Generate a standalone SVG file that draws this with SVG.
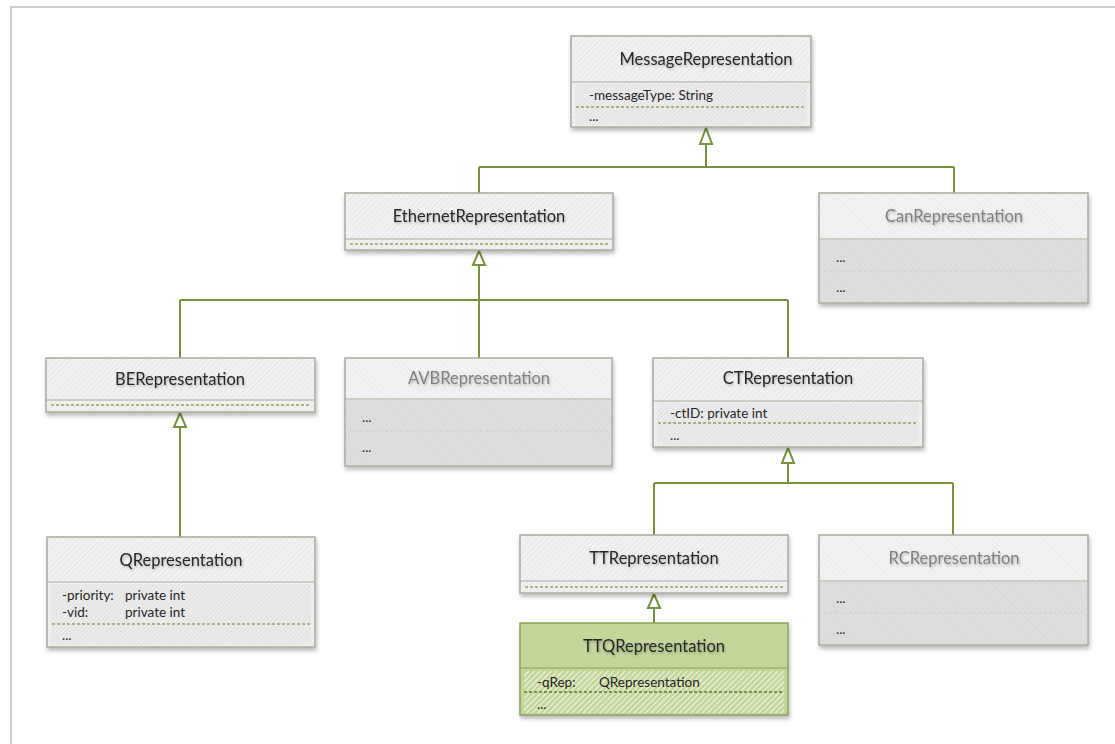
<svg xmlns="http://www.w3.org/2000/svg" width="1115" height="744" viewBox="0 0 1115 744">
<defs>
<pattern id="hatch" width="4" height="4" patternUnits="userSpaceOnUse" patternTransform="rotate(45)">
<rect width="4" height="4" fill="#f1f1f1"/>
<line x1="0" y1="0" x2="0" y2="4" stroke="#e4e4e4" stroke-width="1.5"/>
</pattern>
<pattern id="hatchAttr" width="3" height="3" patternUnits="userSpaceOnUse" patternTransform="rotate(45)">
<rect width="3" height="3" fill="#ececec"/>
<line x1="0" y1="0" x2="0" y2="3" stroke="#d9d9d9" stroke-width="1.2"/>
</pattern>
<pattern id="hatchGray" width="4" height="4" patternUnits="userSpaceOnUse" patternTransform="rotate(-45)">
<rect width="4" height="4" fill="#dedede"/>
<line x1="0" y1="0" x2="0" y2="4" stroke="#d4d4d4" stroke-width="1.2"/>
</pattern>
<pattern id="hatchGrayTitle" width="4" height="4" patternUnits="userSpaceOnUse" patternTransform="rotate(-45)">
<rect width="4" height="4" fill="#f2f2f2"/>
<line x1="0" y1="0" x2="0" y2="4" stroke="#e7e7e7" stroke-width="1.2"/>
</pattern>
<pattern id="hatchGreen" width="4" height="4" patternUnits="userSpaceOnUse" patternTransform="rotate(45)">
<rect width="4" height="4" fill="#c4d79b"/>
<line x1="0" y1="0" x2="0" y2="4" stroke="#ffffff" stroke-width="1.6"/>
</pattern>
<filter id="shadow" x="-5%" y="-10%" width="112%" height="130%">
<feDropShadow dx="1" dy="3" stdDeviation="2" flood-color="#000" flood-opacity="0.28"/>
</filter>
<filter id="tshadow" x="-5%" y="-30%" width="110%" height="160%">
<feDropShadow dx="1" dy="1.5" stdDeviation="1" flood-color="#000" flood-opacity="0.25"/>
</filter>
</defs>
<style>
.box{stroke:#a8ab9c;stroke-width:1.5;filter:url(#shadow)}
.norm{fill:url(#hatch)}
.grey{fill:url(#hatchGrayTitle)}
.green{fill:#c3d69b;stroke:#8aa456}
.sep{stroke:#a8ab9c;stroke-width:1.2}
.attr{fill:url(#hatchAttr)}
.attrG{fill:url(#hatchGray)}
.attrT{fill:url(#hatchGreen)}
.dash{stroke:#8ea35e;stroke-width:1.3;stroke-dasharray:3,2;fill:none}
.dashG{stroke:#cfcfc4;stroke-width:1;stroke-dasharray:3,2;fill:none}
.title{font-family:Lato,"Liberation Sans",sans-serif;font-size:16.5px;fill:#262626;text-anchor:middle;filter:url(#tshadow)}
.gtitle{font-family:Lato,"Liberation Sans",sans-serif;font-size:16.5px;fill:#7f7f7f;text-anchor:middle;filter:url(#tshadow)}
.txt{font-family:Lato,"Liberation Sans",sans-serif;font-size:13.5px;fill:#262626}
.con{stroke:#76923c;stroke-width:2;fill:none}
.arr{stroke:#76923c;stroke-width:2;fill:#ffffff;stroke-linejoin:miter}
</style>
<rect width="1115" height="744" fill="#ffffff"/>
<path d="M11 744 V7 H1115" fill="none" stroke="#bfc0b6" stroke-width="1.5"/>

<g id="connectors">
<path class="con" d="M706 144 V167 M479 167 H954 M479 167 V193 M954 167 V193"/>
<path class="con" d="M479 265 V358 M180 300 H788 M180 300 V358 M788 300 V358"/>
<path class="con" d="M180 427 V537"/>
<path class="con" d="M788 463 V483 M654 483 H953 M654 483 V535 M953 483 V535"/>
<path class="con" d="M654 608 V623"/>
<polygon class="arr" points="706,128 700,144 712,144"/>
<polygon class="arr" points="479,251 473,265 485,265"/>
<polygon class="arr" points="180,413 174,427 186,427"/>
<polygon class="arr" points="788,448 782,463 794,463"/>
<polygon class="arr" points="654,594 648,608 660,608"/>
</g>

<g id="MessageRepresentation">
<rect class="box norm" x="571" y="36" width="240" height="91"/>
<rect class="attr" x="575" y="84" width="232" height="41"/>
<line class="sep" x1="571" y1="82" x2="811" y2="82"/>
<line class="dash" x1="576" y1="107" x2="806" y2="107"/>
<text class="title" x="706" y="65">MessageRepresentation</text>
<text class="txt" x="589" y="100">-messageType: String</text>
<text class="txt" x="589" y="121">...</text>
</g>

<g id="EthernetRepresentation">
<rect class="box norm" x="345" y="193" width="268" height="57"/>
<line class="sep" x1="345" y1="239" x2="613" y2="239"/>
<line class="dash" x1="350" y1="244" x2="608" y2="244"/>
<text class="title" x="479" y="222">EthernetRepresentation</text>
</g>

<g id="CanRepresentation">
<rect class="box grey" x="819" y="193" width="269" height="110"/>
<rect class="attrG" x="820" y="240" width="267" height="62"/>
<line class="sep" x1="819" y1="239" x2="1088" y2="239"/>
<line class="dashG" x1="824" y1="271" x2="1083" y2="271"/>
<text class="gtitle" x="954" y="222">CanRepresentation</text>
<text class="txt" x="836" y="262">...</text>
<text class="txt" x="836" y="292">...</text>
</g>

<g id="BERepresentation">
<rect class="box norm" x="46" y="358" width="269" height="54"/>
<line class="sep" x1="46" y1="400" x2="315" y2="400"/>
<line class="dash" x1="51" y1="405" x2="310" y2="405"/>
<text class="title" x="180" y="385">BERepresentation</text>
</g>

<g id="AVBRepresentation">
<rect class="box grey" x="345" y="358" width="267" height="108"/>
<rect class="attrG" x="346" y="400" width="265" height="65"/>
<line class="sep" x1="345" y1="399" x2="612" y2="399"/>
<line class="dashG" x1="350" y1="431" x2="607" y2="431"/>
<text class="gtitle" x="479" y="384">AVBRepresentation</text>
<text class="txt" x="362" y="422">...</text>
<text class="txt" x="362" y="452">...</text>
</g>

<g id="CTRepresentation">
<rect class="box norm" x="653" y="358" width="270" height="89"/>
<rect class="attr" x="657" y="403" width="262" height="42"/>
<line class="sep" x1="653" y1="401" x2="923" y2="401"/>
<line class="dash" x1="658" y1="423" x2="918" y2="423"/>
<text class="title" x="788" y="384">CTRepresentation</text>
<text class="txt" x="670" y="418">-ctID: private int</text>
<text class="txt" x="670" y="440">...</text>
</g>

<g id="QRepresentation">
<rect class="box norm" x="47" y="537" width="268" height="110"/>
<rect class="attr" x="51" y="584" width="260" height="61"/>
<line class="sep" x1="47" y1="582" x2="315" y2="582"/>
<line class="dash" x1="52" y1="624" x2="310" y2="624"/>
<text class="title" x="181" y="566">QRepresentation</text>
<text class="txt" x="62" y="600">-priority:</text>
<text class="txt" x="125" y="600">private int</text>
<text class="txt" x="62" y="617">-vid:</text>
<text class="txt" x="125" y="617">private int</text>
<text class="txt" x="62" y="640">...</text>
</g>

<g id="TTRepresentation">
<rect class="box norm" x="520" y="535" width="268" height="58"/>
<line class="sep" x1="520" y1="581" x2="788" y2="581"/>
<line class="dash" x1="525" y1="587" x2="783" y2="587"/>
<text class="title" x="654" y="564">TTRepresentation</text>
</g>

<g id="TTQRepresentation">
<rect class="box green" x="520" y="623" width="268" height="92"/>
<rect class="attrT" x="524" y="671" width="260" height="42"/>
<line x1="520" y1="668" x2="788" y2="668" stroke="#8aa456" stroke-width="1.2"/>
<line x1="524" y1="692" x2="784" y2="692" stroke="#5f7a2c" stroke-width="1.3" stroke-dasharray="3,2"/>
<text class="title" x="654" y="652">TTQRepresentation</text>
<text class="txt" x="537" y="687">-qRep:</text>
<text class="txt" x="599" y="687">QRepresentation</text>
<text class="txt" x="537" y="709">...</text>
</g>

<g id="RCRepresentation">
<rect class="box grey" x="819" y="535" width="269" height="110"/>
<rect class="attrG" x="820" y="582" width="267" height="62"/>
<line class="sep" x1="819" y1="581" x2="1088" y2="581"/>
<line class="dashG" x1="824" y1="613" x2="1083" y2="613"/>
<text class="gtitle" x="954" y="564">RCRepresentation</text>
<text class="txt" x="836" y="603">...</text>
<text class="txt" x="836" y="634">...</text>
</g>
</svg>
